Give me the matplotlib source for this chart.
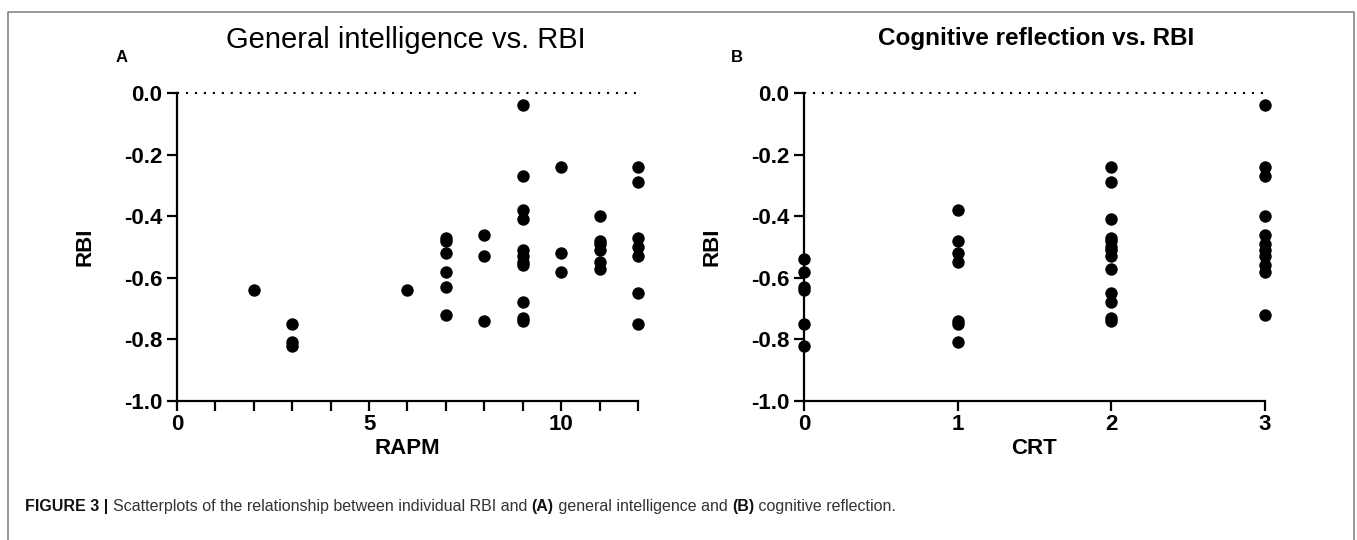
import matplotlib
matplotlib.use('Agg')
import matplotlib.pyplot as plt
from matplotlib.ticker import MultipleLocator

plt.rcParams['font.family'] = ['Liberation Sans', 'DejaVu Sans']
plt.rcParams['axes.unicode_minus'] = False

# Panel A: RAPM score vs RBI
rapm = [2,
        3, 3, 3,
        6,
        7, 7, 7, 7, 7, 7,
        8, 8, 8,
        9, 9, 9, 9, 9, 9, 9, 9, 9, 9, 9,
        10, 10, 10,
        11, 11, 11, 11, 11, 11,
        12, 12, 12, 12, 12, 12, 12]
rbi_a = [-0.64,
         -0.75, -0.81, -0.82,
         -0.64,
         -0.47, -0.48, -0.52, -0.58, -0.63, -0.72,
         -0.46, -0.53, -0.74,
         -0.04, -0.27, -0.38, -0.41, -0.51, -0.53, -0.55, -0.56, -0.68, -0.73, -0.74,
         -0.24, -0.52, -0.58,
         -0.40, -0.48, -0.49, -0.51, -0.55, -0.57,
         -0.24, -0.29, -0.47, -0.50, -0.53, -0.65, -0.75]

# Panel B: CRT score vs RBI
crt = [0, 0, 0, 0, 0, 0,
       1, 1, 1, 1, 1, 1, 1,
       2, 2, 2, 2, 2, 2, 2, 2, 2, 2, 2, 2, 2,
       3, 3, 3, 3, 3, 3, 3, 3, 3, 3, 3]
rbi_b = [-0.54, -0.58, -0.63, -0.64, -0.75, -0.82,
         -0.38, -0.48, -0.52, -0.55, -0.74, -0.75, -0.81,
         -0.24, -0.29, -0.41, -0.47, -0.48, -0.50, -0.51, -0.53, -0.57, -0.65, -0.68, -0.73, -0.74,
         -0.04, -0.24, -0.27, -0.40, -0.46, -0.49, -0.51, -0.53, -0.56, -0.58, -0.72]

y_ticks = [0.0, -0.2, -0.4, -0.6, -0.8, -1.0]

W, H = 1357, 540
fig = plt.figure(figsize=(W / 100, H / 100), dpi=100)


def style_axes(ax, xmax):
    ax.set_ylim(-1.0, 0.0)
    ax.set_xlim(0, xmax)
    for s in ['top', 'right']:
        ax.spines[s].set_visible(False)
    for s in ['left', 'bottom']:
        ax.spines[s].set_linewidth(1.6)
    ax.set_yticks(y_ticks)
    ax.set_yticklabels([f'{v:.1f}' for v in y_ticks])
    ax.tick_params(axis='both', which='both', length=7, width=1.6, direction='out',
                   labelsize=16, pad=3.5)
    ax.tick_params(axis='x', pad=2.5)
    for lab in ax.get_xticklabels() + ax.get_yticklabels():
        lab.set_fontweight('bold')
    # dotted reference line at RBI = 0
    ax.plot([0, xmax], [0, 0], color='black', linestyle=(0, (1, 3.3)), linewidth=1.5,
            clip_on=False, zorder=1)


# ---- Panel A ----
axA = fig.add_axes([177 / W, 1 - 401 / H, 461 / W, 308 / H])
axA.scatter(rapm, rbi_a, s=80, color='black', linewidths=0, clip_on=False, zorder=3)
axA.set_xticks([0, 5, 10])
axA.xaxis.set_minor_locator(MultipleLocator(1))
style_axes(axA, 12)
axA.set_xlabel('RAPM', fontsize=16, fontweight='bold')
axA.set_ylabel('RBI', fontsize=16, fontweight='bold')
axA.xaxis.label.set_va('center')
axA.xaxis.set_label_coords(0.5, -0.155)
axA.yaxis.set_label_coords(-0.176, 0.5)

# ---- Panel B ----
axB = fig.add_axes([804 / W, 1 - 401 / H, 461 / W, 308 / H])
axB.scatter(crt, rbi_b, s=80, color='black', linewidths=0, clip_on=False, zorder=3)
axB.set_xticks([0, 1, 2, 3])
style_axes(axB, 3)
axB.set_xlabel('CRT', fontsize=16, fontweight='bold')
axB.set_ylabel('RBI', fontsize=16, fontweight='bold')
axB.xaxis.label.set_va('center')
axB.xaxis.set_label_coords(0.5, -0.155)
axB.yaxis.set_label_coords(-0.176, 0.5)

# titles and panel letters
fig.text(406 / W, 1 - 40 / H, 'General intelligence vs. RBI', fontsize=21,
         ha='center', va='center')
fig.text(1036 / W, 1 - 38 / H, 'Cognitive reflection vs. RBI', fontsize=17.5,
         fontweight='bold', ha='center', va='center')
fig.text(122 / W, 1 - 58 / H, 'A', fontsize=12, fontweight='bold', ha='center', va='center')
fig.text(737 / W, 1 - 58 / H, 'B', fontsize=12, fontweight='bold', ha='center', va='center')

# gray frame around the figure (left, top, right)
fx0, fx1, fy1 = 8 / W, 1354 / W, 1 - 12 / H
fig.add_artist(plt.Line2D([fx0, fx0, fx1, fx1], [0, fy1, fy1, 0], color='#888888',
                          linewidth=1.2, transform=fig.transFigure))

# caption with mixed weights, each piece chained after the previous one
pieces = [('FIGURE 3 | ', 'bold', '#111111'),
          ('Scatterplots of the relationship between individual RBI and ', 'normal', '#333333'),
          ('(A)', 'bold', '#111111'),
          (' general intelligence and ', 'normal', '#333333'),
          ('(B)', 'bold', '#111111'),
          (' cognitive reflection.', 'normal', '#333333')]
cap_size = 11.5
prev = fig.text(25 / W, 1 - 506 / H, pieces[0][0], fontsize=cap_size,
                fontweight=pieces[0][1], color=pieces[0][2], ha='left', va='center')
for txt, wt, col in pieces[1:]:
    prev = axA.annotate(txt, xy=(1, 0), xycoords=prev, ha='left', va='bottom',
                        fontsize=cap_size, fontweight=wt, color=col,
                        annotation_clip=False)

fig.savefig('out.png', dpi=100)
